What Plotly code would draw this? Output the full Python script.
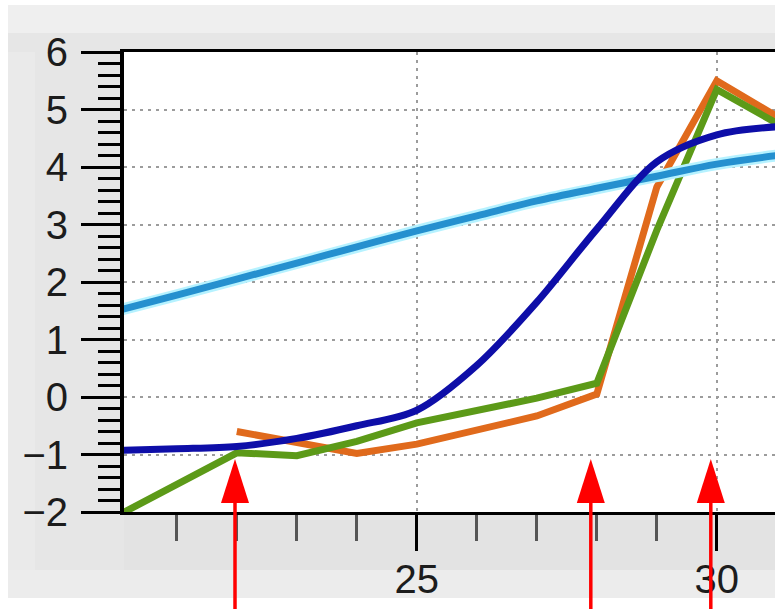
import plotly.graph_objects as go

# ---------------- data ----------------
x_full = [20, 21, 22, 23, 24, 25, 26, 27, 28, 29, 30, 31]
light_blue = [1.50, 1.77, 2.05, 2.33, 2.61, 2.89, 3.15, 3.41, 3.63, 3.84, 4.05, 4.20]
dark_blue = [-0.93, -0.90, -0.86, -0.72, -0.50, -0.23, 0.55, 1.65, 2.92, 4.09, 4.56, 4.70]
green = [-2.07, -1.52, -0.97, -1.02, -0.77, -0.45, -0.23, -0.02, 0.24, 2.90, 5.35, 4.76]
x_orange = [22, 23, 24, 25, 26, 27, 28, 29, 30, 31]
orange = [-0.60, -0.80, -0.98, -0.82, -0.58, -0.33, 0.05, 3.65, 5.50, 4.88]

arrow_x = [21.97, 27.9, 29.9]
arrow_tip_y = -1.08

x_range = [20.12, 30.97]
y_range = [-2, 6]

# ---------------- layout geometry ----------------
W, H = 775, 609
ML, MR, MT, MB = 124, 0, 52, 97
PW, PH = W - ML - MR, H - MT - MB


def pxx(p):
    return (p - ML) / PW


def pxy(p):
    return (H - MB - p) / PH


def dx(v):
    return (v - x_range[0]) / (x_range[1] - x_range[0])


def dy(v):
    return (v - y_range[0]) / (y_range[1] - y_range[0])


fig = go.Figure()

fig.add_trace(go.Scatter(x=x_orange, y=orange, mode="lines",
                         line=dict(color="#e06a1c", width=7), hoverinfo="skip"))
fig.add_trace(go.Scatter(x=x_full, y=green, mode="lines",
                         line=dict(color="#5c9a18", width=7), hoverinfo="skip"))
fig.add_trace(go.Scatter(x=x_full, y=light_blue, mode="lines",
                         line=dict(color="#b6f2ff", width=12, shape="spline"), hoverinfo="skip"))
fig.add_trace(go.Scatter(x=x_full, y=light_blue, mode="lines",
                         line=dict(color="#2590cf", width=7, shape="spline"), hoverinfo="skip"))
fig.add_trace(go.Scatter(x=x_full, y=dark_blue, mode="lines",
                         line=dict(color="#0e0ea8", width=7, shape="spline", smoothing=0.9),
                         hoverinfo="skip"))

shapes = []


def rect(x0, y0, x1, y1, color, layer="below"):
    shapes.append(dict(type="rect", xref="paper", yref="paper",
                       x0=pxx(x0), x1=pxx(x1), y0=pxy(y1), y1=pxy(y0),
                       fillcolor=color, line=dict(width=0), layer=layer))


# gray panel around the plot
rect(8, 5, 775, 33, "#efefef")
rect(8, 33, 775, 52, "#e6e6e6")
rect(8, 52, 124, 570, "#e6e6e6")
rect(8, 52, 35, 570, "#eaeaea")
rect(124, 512, 775, 570, "#e3e3e3")
rect(8, 570, 775, 598, "#ececec")

# red arrows
head_len = 44 / PH
head_half = 14 / PW
for ax in arrow_x:
    xt = dx(ax)
    yt = dy(arrow_tip_y)
    yb = yt - head_len
    shapes.append(dict(type="line", xref="paper", yref="paper",
                       x0=xt, x1=xt, y0=yb + 0.005, y1=pxy(620),
                       line=dict(color="#ff0000", width=3.5), layer="above"))
    shapes.append(dict(type="path", xref="paper", yref="paper",
                       path=f"M {xt},{yt} L {xt - head_half},{yb} L {xt + head_half},{yb} Z",
                       fillcolor="#ff0000", line=dict(width=0), layer="above"))

tick_font = dict(family="Liberation Sans, Arial, sans-serif", size=40, color="#1c1c1c")

fig.update_layout(
    width=W, height=H,
    margin=dict(l=ML, r=MR, t=MT, b=MB, pad=0),
    paper_bgcolor="white",
    plot_bgcolor="white",
    showlegend=False,
    shapes=shapes,
    xaxis=dict(
        range=x_range, dtick=5, tick0=0,
        showline=True, linecolor="black", linewidth=3, mirror=True,
        ticks="outside", ticklen=36, tickwidth=3, tickcolor="black",
        minor=dict(dtick=1, tick0=0, ticks="outside", ticklen=26, tickwidth=3,
                   tickcolor="#555555", showgrid=False),
        showgrid=True, gridcolor="#9c9c9c", gridwidth=2, griddash="3px,5px",
        zeroline=False, tickfont=tick_font, ticklabelstandoff=-6,
    ),
    yaxis=dict(
        range=y_range, dtick=1, tick0=0,
        showline=True, linecolor="black", linewidth=4,
        ticks="outside", ticklen=39, tickwidth=3, tickcolor="black",
        minor=dict(dtick=0.2, tick0=0, ticks="outside", ticklen=22, tickwidth=3,
                   tickcolor="black", showgrid=False),
        showgrid=True, gridcolor="#9c9c9c", gridwidth=2, griddash="3px,5px",
        zeroline=False, tickfont=tick_font, ticklabelstandoff=5,
    ),
)

fig.write_html(
    "out.html",
    config={"displayModeBar": False},
    post_script="document.body.style.margin='0';document.body.style.overflow='hidden';",
)
